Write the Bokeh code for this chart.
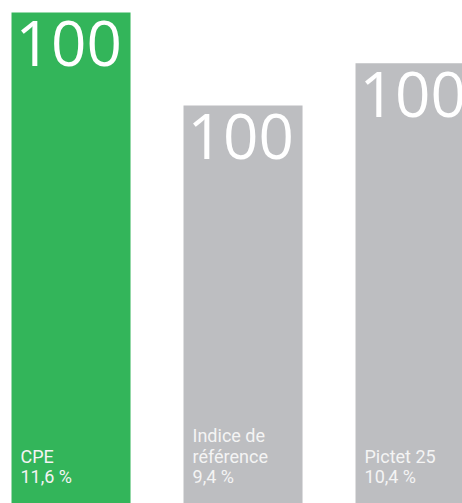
from bokeh.plotting import figure
from bokeh.models import Range1d, ColumnDataSource
from bokeh.core.properties import value
from bokeh.embed import file_html
from bokeh.resources import INLINE

# ---- data ----
categories = ["CPE", "Indice de\nréférence", "Pictet 25"]
returns = [11.6, 9.4, 10.4]
pct_labels = ["11,6 %", "9,4 %", "10,4 %"]
index_labels = ["100", "100", "100"]
bar_colors = ["#33b55a", "#bdbec1", "#bdbec1"]

BAR_W = 0.692
xs = list(range(len(categories)))
lefts = [x - BAR_W / 2 for x in xs]

p = figure(width=462, height=503, output_backend="svg", toolbar_location=None,
           x_range=Range1d(-0.41, 2.276), y_range=Range1d(0, 11.883),
           min_border=0, min_border_left=0, min_border_right=0,
           min_border_top=0, min_border_bottom=0)
p.axis.visible = False
p.xaxis.visible = False
p.yaxis.visible = False
p.grid.visible = False
p.outline_line_color = None
p.background_fill_color = "white"
p.border_fill_color = "white"

src = ColumnDataSource(dict(x=xs, top=returns, color=bar_colors, left=lefts,
                            idx=index_labels))
p.vbar(x="x", top="top", bottom=0, width=BAR_W, color="color", line_color=None, source=src)

# big "100" labels at top of bars
p.text(x="left", y="top", text="idx", source=src, x_offset=4, y_offset=31,
       text_baseline="alphabetic", text_align="left", text_color="white",
       text_font=value("Open Sans"), text_font_size="62px")

# bottom labels (per line)
lx, ly, lt, loff = [], [], [], []
for i, (name, pct) in enumerate(zip(categories, pct_labels)):
    lines = name.split("\n") + [pct]
    n = len(lines)
    for j, line in enumerate(lines):
        lx.append(lefts[i])
        ly.append(0)
        lt.append(line)
        loff.append(-27 - 20.5 * (n - 1 - j))
lsrc = ColumnDataSource(dict(x=lx, y=ly, t=lt, off=loff))
p.text(x="x", y="y", text="t", y_offset="off", source=lsrc, x_offset=9,
       text_baseline="alphabetic", text_align="left", text_color="#f4f4f4",
       text_font=value("Roboto"), text_font_size="18px")

open("out.html", "w").write(file_html(p, INLINE))
